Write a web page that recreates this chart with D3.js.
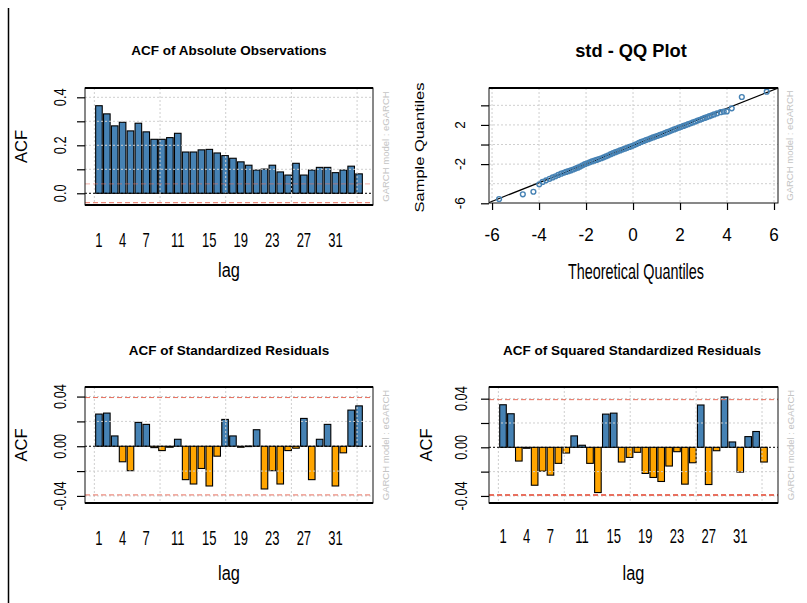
<!DOCTYPE html>
<html>
<head>
<meta charset="utf-8">
<script src="https://cdn.jsdelivr.net/npm/d3@7"></script>
<style>
  body { margin: 0; background: #fff; }
  svg { display: block; }
  text { font-family: "Liberation Sans", Arial, Helvetica, sans-serif; }
</style>
</head>
<body>
<svg id="chart" width="807" height="603"></svg>
<script>
// ---- data ---------------------------------------------------------------
const lags = [1, 2, 3, 4, 5, 6, 7, 8, 9, 10, 11, 12, 13, 14, 15, 16, 17,
              18, 19, 20, 21, 22, 23, 24, 25, 26, 27, 28, 29, 30, 31, 32, 33, 34];
const lagLabels = [1, 4, 7, 11, 15, 19, 23, 27, 31];

const acfAbsolute = [0.365, 0.331, 0.281, 0.296, 0.260, 0.292, 0.256, 0.225, 0.225, 0.232,
                     0.250, 0.172, 0.172, 0.181, 0.183, 0.168, 0.157, 0.146, 0.131, 0.117,
                     0.097, 0.101, 0.117, 0.089, 0.076, 0.125, 0.076, 0.097, 0.108, 0.108,
                     0.086, 0.097, 0.113, 0.081];

const acfStdResid = [0.0259, 0.0267, 0.0083, -0.0125, -0.0197, 0.0192, 0.0176, -0.0011, -0.0035, -0.0008,
                     0.0056, -0.0269, -0.0304, -0.0179, -0.0320, -0.0080, 0.0216, 0.0083, -0.0008, 0.0002,
                     0.0133, -0.0344, -0.0197, -0.0304, -0.0035, -0.0016, 0.0224, -0.0269, 0.0056, 0.0176,
                     -0.0320, -0.0053, 0.0291, 0.0325];

const acfSqResid = [0.0350, 0.0276, -0.0113, -0.0008, -0.0312, -0.0196, -0.0229, -0.0132, -0.0047, 0.0094,
                    0.0017, -0.0132, -0.0372, 0.0273, 0.0281, -0.0121, -0.0083, -0.0041, -0.0215, -0.0248,
                    -0.0281, -0.0154, -0.0036, -0.0303, -0.0127, 0.0348, -0.0306, -0.0028, 0.0414, 0.0044,
                    -0.0204, 0.0088, 0.0130, -0.0121];

const confLimit = 0.0392;

const qqTheoretical = [-5.70, -4.69, -4.24, -3.99, -3.85, -3.70, -3.55, -3.42, -3.30, -3.18,
                       -3.06, -2.95, -2.85, -2.75, -2.65, -2.55, -2.45, -2.35, -2.25, -2.15,
                       -2.05, -1.95, -1.85, -1.75, -1.65, -1.55, -1.45, -1.35, -1.25, -1.15,
                       -1.05, -0.95, -0.85, -0.75, -0.65, -0.55, -0.45, -0.35, -0.25, -0.15,
                       -0.05, 0.05, 0.15, 0.25, 0.35, 0.45, 0.55, 0.65, 0.75, 0.85,
                       0.95, 1.05, 1.15, 1.25, 1.35, 1.45, 1.55, 1.65, 1.75, 1.85,
                       1.95, 2.05, 2.15, 2.25, 2.35, 2.45, 2.55, 2.65, 2.75, 2.85,
                       2.95, 3.05, 3.15, 3.25, 3.35, 3.45, 3.58, 3.73, 3.86, 3.99,
                       4.20, 4.63, 5.69];
const qqSample = [-5.56, -5.08, -4.82, -4.06, -3.82, -3.66, -3.50, -3.36, -3.24, -3.10,
                  -2.98, -2.88, -2.80, -2.72, -2.64, -2.55, -2.46, -2.36, -2.25, -2.12,
                  -2.01, -1.91, -1.82, -1.73, -1.65, -1.57, -1.49, -1.40, -1.31, -1.21,
                  -1.10, -0.99, -0.88, -0.78, -0.69, -0.60, -0.51, -0.42, -0.34, -0.25,
                  -0.16, -0.06, 0.05, 0.16, 0.26, 0.36, 0.45, 0.54, 0.63, 0.72,
                  0.81, 0.89, 0.98, 1.07, 1.16, 1.26, 1.35, 1.45, 1.54, 1.63,
                  1.72, 1.81, 1.90, 1.99, 2.08, 2.17, 2.26, 2.35, 2.44, 2.53,
                  2.62, 2.71, 2.80, 2.89, 2.98, 3.07, 3.18, 3.30, 3.36, 3.38,
                  3.69, 4.85, 5.39];
const qqLine = { intercept: -0.10, slope: 0.95 };
const qqXTicks = [-6, -4, -2, 0, 2, 4, 6];
const qqYTicks = [-6, -2, 0, 2, 4];
const qqYLabels = [-6, -2, 2];
const qqYGrid = [-4, -2, 0, 2, 4];

const modelNote = "GARCH model : eGARCH";

// ---- helpers ------------------------------------------------------------
const svg = d3.select("#chart");
svg.append("rect").attr("width", 807).attr("height", 603).attr("fill", "#fff");

const STEEL = "#4682b4", ORANGE = "#ffa500", GRID = "#cfcfcf", REDLINE = "#e8705f";

// text with its own size, rotation and stretch along the writing direction
function label(g, str, x, y, o) {
  return g.append("text")
    .attr("transform", `translate(${x},${y}) rotate(${o.rot || 0}) scale(${o.sx || 1},1)`)
    .attr("text-anchor", o.anchor || "middle")
    .attr("font-size", o.size)
    .attr("font-weight", o.bold ? "bold" : null)
    .attr("fill", o.fill || "#000")
    .text(str);
}

function frame(g, box, thickBottom) {
  g.append("rect")
    .attr("x", box.l).attr("y", box.t)
    .attr("width", box.r - box.l).attr("height", box.b - box.t)
    .attr("fill", "none").attr("stroke", "#111").attr("stroke-width", 1);
  g.append("line").attr("x1", box.l).attr("x2", box.r).attr("y1", box.t).attr("y2", box.t)
    .attr("stroke", "#000").attr("stroke-width", 2);
  if (thickBottom) {
    g.append("line").attr("x1", box.l).attr("x2", box.r).attr("y1", box.b).attr("y2", box.b)
      .attr("stroke", "#000").attr("stroke-width", 2);
  }
}

// ---- ACF bar panel --------------------------------------------------------
// bars follow barplot geometry: width 1, space 0.2, axis padded 4% each side
function acfPanel(cfg) {
  const g = svg.append("g");
  const box = cfg.box;
  const nBars = lags.length;
  const spanL = 0.2, spanR = 1.2 * nBars;
  const pad = 0.04 * (spanR - spanL);
  const x = d3.scaleLinear().domain([spanL - pad, spanR + pad]).range([box.l, box.r]);
  const y = d3.scaleLinear().domain(cfg.yDomain).range([box.b, box.t]);
  const barLeft = i => 0.2 + 1.2 * i;

  // bars
  g.selectAll("rect.bar").data(cfg.values).join("rect")
    .attr("class", "bar")
    .attr("x", (d, i) => x(barLeft(i)))
    .attr("width", x(1) - x(0))
    .attr("y", d => y(Math.max(0, d)))
    .attr("height", d => Math.max(0.6, Math.abs(y(d) - y(0))))
    .attr("fill", d => (cfg.signed && d < 0) ? ORANGE : STEEL)
    .attr("stroke", "#000").attr("stroke-width", 1.1);

  // dotted grid on top of the bars
  const gridX = [0, 10, 20, 30, 40];
  g.selectAll("line.gx").data(gridX).join("line")
    .attr("x1", d => x(d)).attr("x2", d => x(d))
    .attr("y1", box.t).attr("y2", box.b)
    .attr("stroke", GRID).attr("stroke-dasharray", "2,2");
  g.selectAll("line.gy").data(cfg.yTicks.filter(v => v !== 0)).join("line")
    .attr("x1", box.l).attr("x2", box.r)
    .attr("y1", d => y(d)).attr("y2", d => y(d))
    .attr("stroke", GRID).attr("stroke-dasharray", "2,2");

  // zero line and confidence limits
  g.append("line").attr("x1", box.l).attr("x2", box.r)
    .attr("y1", y(0)).attr("y2", y(0))
    .attr("stroke", "#000").attr("stroke-dasharray", "2,2");
  [confLimit, -confLimit].forEach((c, k) => {
    g.append("line").attr("x1", box.l).attr("x2", box.r)
      .attr("y1", y(c)).attr("y2", y(c))
      .attr("stroke", REDLINE)
      .attr("stroke-width", (k === 1 && cfg.heavyLower) ? 2 : 1)
      .attr("stroke-opacity", cfg.faintUpper && k === 0 ? 0.55 : 1)
      .attr("stroke-dasharray", "5,3");
  });

  frame(g, box, true);

  // left axis tick marks
  g.append("g").attr("transform", `translate(${box.l},0)`)
    .call(d3.axisLeft(y).tickValues(cfg.yTicks).tickSize(8).tickSizeOuter(0).tickFormat(""))
    .call(a => a.select(".domain").remove())
    .call(a => a.selectAll("line").attr("stroke", "#000").attr("stroke-width", 1.2));

  // rotated tick labels
  const fmt = d3.format(cfg.fmt);
  cfg.yLabels.forEach(v => {
    label(g, fmt(v).replace("−", "-"), cfg.yLabelX, y(v), { rot: -90, size: 16, sx: 0.8 });
  });

  // lag labels under the bar centres
  lagLabels.forEach(l => {
    const cx = x(barLeft(lags.indexOf(l)) + 0.5);
    label(g, String(l), cx, cfg.lagLabelY, { size: 21, sx: 0.62 });
  });

  label(g, "lag", (box.l + box.r) / 2, cfg.lagTitleY, { size: 21, sx: 0.78 });
  label(g, "ACF", cfg.acfX, (box.t + box.b) / 2, { rot: -90, size: 16.5 });
  label(g, cfg.title, cfg.titleX, cfg.titleY, { size: 13.5, bold: true });
  label(g, modelNote, cfg.noteX, (box.t + box.b) / 2, { rot: -90, size: 8.5, sx: 1.12, fill: "#c4c4c4" });
}

// ---- QQ panel -------------------------------------------------------------
function qqPanel(cfg) {
  const g = svg.append("g");
  const box = cfg.box;
  const x = d3.scaleLinear().domain([-6.13, 6.17]).range([box.l, box.r]);
  const y = d3.scaleLinear().domain([-5.97, 5.77]).range([box.b, box.t]);

  g.append("clipPath").attr("id", "qqclip").append("rect")
    .attr("x", box.l).attr("y", box.t).attr("width", box.r - box.l).attr("height", box.b - box.t);

  g.selectAll("line.gx").data(qqXTicks).join("line")
    .attr("x1", d => x(d)).attr("x2", d => x(d))
    .attr("y1", box.t).attr("y2", box.b)
    .attr("stroke", GRID).attr("stroke-dasharray", "2,2");
  g.selectAll("line.gy").data(qqYGrid).join("line")
    .attr("x1", box.l).attr("x2", box.r)
    .attr("y1", d => y(d)).attr("y2", d => y(d))
    .attr("stroke", GRID).attr("stroke-dasharray", "2,2");

  // reference line across the whole plotting region
  const xd = x.domain();
  g.append("line").attr("clip-path", "url(#qqclip)")
    .attr("x1", x(xd[0])).attr("y1", y(qqLine.intercept + qqLine.slope * xd[0]))
    .attr("x2", x(xd[1])).attr("y2", y(qqLine.intercept + qqLine.slope * xd[1]))
    .attr("stroke", "#000").attr("stroke-width", 1.2);

  g.selectAll("circle").data(qqTheoretical).join("circle")
    .attr("cx", d => x(d))
    .attr("cy", (d, i) => y(qqSample[i]))
    .attr("r", 2.4)
    .attr("fill", "none").attr("stroke", STEEL).attr("stroke-width", 1.4);

  frame(g, box, false);

  g.append("g").attr("transform", `translate(0,${box.b})`)
    .call(d3.axisBottom(x).tickValues(qqXTicks).tickSize(7).tickSizeOuter(0).tickFormat(""))
    .call(a => a.select(".domain").remove())
    .call(a => a.selectAll("line").attr("stroke", "#000").attr("stroke-width", 1.2));
  g.append("g").attr("transform", `translate(${box.l},0)`)
    .call(d3.axisLeft(y).tickValues(qqYTicks).tickSize(8).tickSizeOuter(0).tickFormat(""))
    .call(a => a.select(".domain").remove())
    .call(a => a.selectAll("line").attr("stroke", "#000").attr("stroke-width", 1.2));

  qqXTicks.forEach(v => label(g, String(v), x(v), 240.5, { size: 19, sx: 0.9 }));
  qqYLabels.forEach(v => label(g, String(v), 465, y(v), { rot: -90, size: 15, sx: 0.9 }));

  label(g, "Theoretical Quantiles", 636, 278.5, { size: 21.5, sx: 0.67 });
  label(g, "Sample Quantiles", 424, 147.5, { rot: -90, size: 13.5, sx: 1.22 });
  label(g, cfg.title, 631, 57, { size: 18.3, bold: true });
  label(g, modelNote, 793, (box.t + box.b) / 2, { rot: -90, size: 8.5, sx: 1.12, fill: "#c4c4c4" });
}

// ---- layout ---------------------------------------------------------------
acfPanel({
  title: "ACF of Absolute Observations", titleX: 229, titleY: 55,
  box: { l: 85, r: 373, t: 88, b: 205 },
  values: acfAbsolute, signed: false, faintUpper: true,
  yDomain: [-0.0488, 0.4388], yTicks: [0, 0.1, 0.2, 0.3, 0.4], yLabels: [0, 0.2, 0.4], fmt: ".1f",
  yLabelX: 66, acfX: 27, lagLabelY: 247, lagTitleY: 277, noteX: 389
});

qqPanel({ title: "std - QQ Plot", box: { l: 489, r: 778, t: 88, b: 203 } });

acfPanel({
  title: "ACF of Standardized Residuals", titleX: 229, titleY: 355,
  box: { l: 85, r: 373, t: 387, b: 503 },
  values: acfStdResid, signed: true,
  yDomain: [-0.0457, 0.0477], yTicks: [-0.04, -0.02, 0, 0.02, 0.04], yLabels: [-0.04, 0, 0.04], fmt: ".2f",
  yLabelX: 66, acfX: 27, lagLabelY: 545, lagTitleY: 580, noteX: 389
});

acfPanel({
  title: "ACF of Squared Standardized Residuals", titleX: 632, titleY: 355,
  box: { l: 489, r: 778, t: 387, b: 503 },
  values: acfSqResid, signed: true, heavyLower: true,
  yDomain: [-0.0458, 0.0496], yTicks: [-0.04, -0.02, 0, 0.02, 0.04], yLabels: [-0.04, 0, 0.04], fmt: ".2f",
  yLabelX: 467, acfX: 432, lagLabelY: 543, lagTitleY: 580, noteX: 794
});

// outer frame of the figure
svg.append("line").attr("x1", 8.5).attr("x2", 8.5).attr("y1", 8).attr("y2", 603)
  .attr("stroke", "#000").attr("stroke-width", 1.5);
</script>
</body>
</html>
